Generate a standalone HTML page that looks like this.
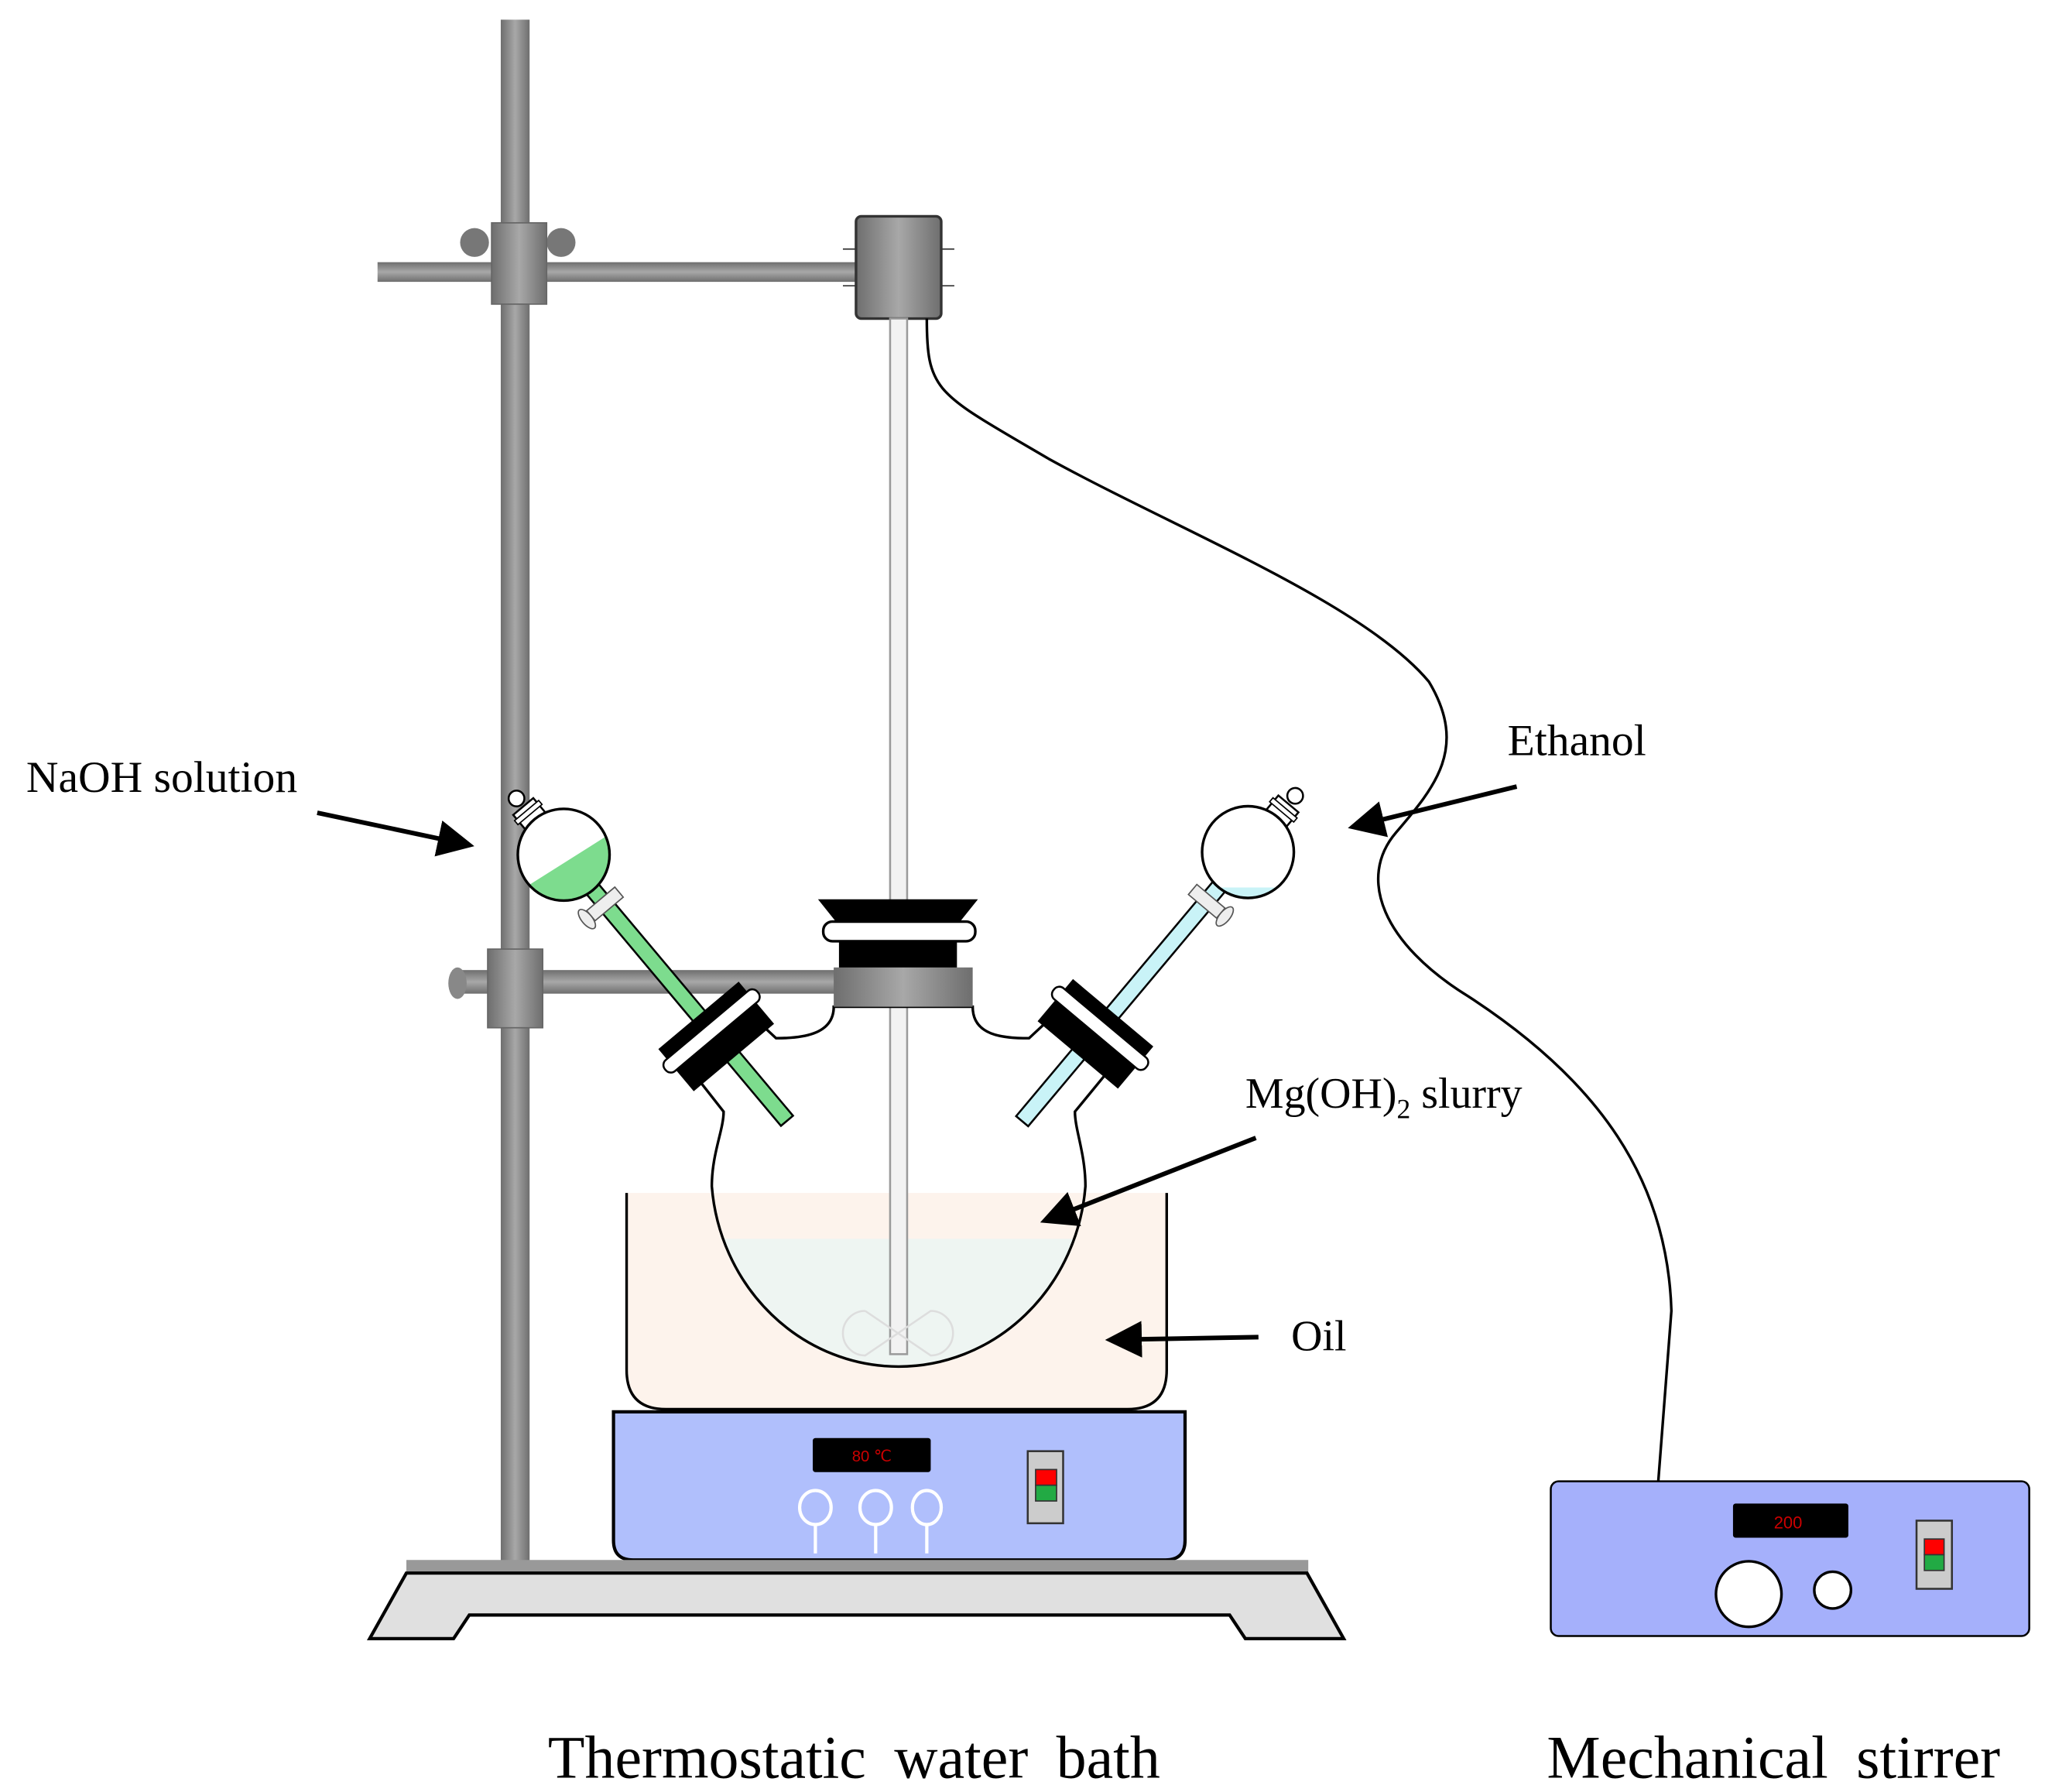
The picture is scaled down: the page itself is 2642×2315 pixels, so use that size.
<!DOCTYPE html>
<html><head><meta charset="utf-8"><style>html,body{margin:0;padding:0;background:#fff}svg{display:block}</style></head>
<body>
<svg width="2642" height="2315" viewBox="0 0 1560 1367" preserveAspectRatio="none" xmlns="http://www.w3.org/2000/svg" font-family="Liberation Serif, serif">
<defs>
<linearGradient id="rodV" x1="0" x2="1" y1="0" y2="0"><stop offset="0" stop-color="#6e6e6e"/><stop offset="0.5" stop-color="#a8a8a8"/><stop offset="1" stop-color="#6e6e6e"/></linearGradient>
<linearGradient id="rodH" x1="0" x2="0" y1="0" y2="1"><stop offset="0" stop-color="#6e6e6e"/><stop offset="0.5" stop-color="#a8a8a8"/><stop offset="1" stop-color="#6e6e6e"/></linearGradient>
<clipPath id="bulb"><path d="M543,905 A143 150 0 0 0 828,905 L828,860 L543,860 Z"/></clipPath>
<clipPath id="lb"><circle cx="430" cy="652" r="35"/></clipPath>
<clipPath id="rb"><circle cx="952" cy="650" r="35"/></clipPath>
<marker id="ah" markerWidth="8" markerHeight="8" refX="6" refY="4" orient="auto" markerUnits="strokeWidth"><path d="M0,0 L8,4 L0,8 Z" fill="#000"/></marker>
</defs>

<rect x="382" y="15" width="22" height="1180" fill="url(#rodV)"/>
<rect x="288" y="200" width="367" height="15" fill="url(#rodH)"/>
<circle cx="362" cy="185" r="11" fill="#777"/><circle cx="428" cy="185" r="11" fill="#777"/>
<rect x="375" y="170" width="42" height="62" fill="url(#rodV)" stroke="#666"/>
<rect x="345" y="740" width="295" height="18" fill="url(#rodH)"/>
<ellipse cx="349" cy="750" rx="7" ry="12" fill="#888"/>
<rect x="372" y="724" width="42" height="60" fill="url(#rodV)" stroke="#666"/>

<rect x="653" y="165" width="65" height="78" rx="4" fill="url(#rodV)" stroke="#333" stroke-width="2"/>
<line x1="718" y1="190" x2="728" y2="190" stroke="#333"/><line x1="718" y1="218" x2="728" y2="218" stroke="#333"/>
<line x1="643" y1="190" x2="653" y2="190" stroke="#333"/><line x1="643" y1="218" x2="653" y2="218" stroke="#333"/>

<path d="M707,243 C707,300 715,300 800,350 C900,405 1040,460 1090,520 C1120,570 1095,600 1065,635 C1035,670 1055,720 1120,760 C1220,825 1272,900 1275,1000 L1265,1130" fill="none" stroke="#000" stroke-width="2"/>

<path d="M478,910 L478,1045 Q478,1075 508,1075 L860,1075 Q890,1075 890,1045 L890,910 Z" fill="#fdf3ec"/>
<path d="M478,910 L478,1045 Q478,1075 508,1075 L860,1075 Q890,1075 890,1045 L890,910" fill="none" stroke="#000" stroke-width="2"/>

<rect x="540" y="945" width="300" height="120" fill="#eef5f2" clip-path="url(#bulb)"/>

<rect x="679" y="243" width="13" height="790" fill="#f2f2f2" stroke="#9a9a9a" stroke-width="1.5"/>
<g stroke="#ddd" fill="none" stroke-width="1.5"><path d="M660,1000 A17 17 0 1 0 660,1034 L710,1000 A17 17 0 1 1 710,1034 L660,1000"/></g>

<path d="M530,820 L552,848 C552,862 543,880 543,905 A143 150 0 0 0 828,905 C828,880 820,862 820,848 L843,820 L800,778 L785,792 C765,792 742,790 742,768 L636,768 C636,790 610,792 592,792 L577,778" fill="none" stroke="#000" stroke-width="2"/>

<path d="M624,686 L746,686 L730,706 L640,706 Z" fill="#000"/>
<rect x="628" y="703" width="116" height="15" rx="7" fill="#fff" stroke="#000" stroke-width="2"/>
<path d="M640,718 L730,718 L730,740 L640,740 Z" fill="#000"/>
<rect x="636" y="738" width="106" height="30" fill="url(#rodV)"/>

<g transform="translate(430,652) rotate(-40)">
  <rect x="-6" y="30" width="12" height="235" fill="#7ddc8e" stroke="#000" stroke-width="1.5"/>
  <rect x="-14" y="44" width="28" height="10" fill="#eee" stroke="#555"/>
  <ellipse cx="-18" cy="49" rx="4" ry="9" fill="#eee" stroke="#555"/>
  <rect x="-10" y="-48" width="20" height="14" fill="#fff" stroke="#000" stroke-width="1.5"/>
  <rect x="-12" y="-44" width="24" height="4" fill="#fff" stroke="#000"/>
  <circle cx="0" cy="-56" r="6" fill="#fff" stroke="#000" stroke-width="1.5"/>
  <rect x="-40" y="160" width="80" height="42" fill="#000"/>
  <rect x="-46" y="170" width="92" height="11" rx="5" fill="#fff" stroke="#000" stroke-width="1.5"/>
</g>
<circle cx="430" cy="652" r="35" fill="#fff"/>
<path d="M380,690 L475,630 L480,700 L380,700 Z" fill="#7ddc8e" clip-path="url(#lb)"/>
<circle cx="430" cy="652" r="35" fill="none" stroke="#000" stroke-width="2"/>

<g transform="translate(952,650) rotate(40)">
  <rect x="-6" y="30" width="12" height="238" fill="#c9f3f7" stroke="#000" stroke-width="1.5"/>
  <rect x="-14" y="44" width="28" height="10" fill="#eee" stroke="#555"/>
  <ellipse cx="18" cy="49" rx="4" ry="9" fill="#eee" stroke="#555"/>
  <rect x="-10" y="-48" width="20" height="14" fill="#fff" stroke="#000" stroke-width="1.5"/>
  <rect x="-12" y="-44" width="24" height="4" fill="#fff" stroke="#000"/>
  <circle cx="0" cy="-56" r="6" fill="#fff" stroke="#000" stroke-width="1.5"/>
  <rect x="-40" y="160" width="80" height="42" fill="#000"/>
  <rect x="-46" y="170" width="92" height="11" rx="5" fill="#fff" stroke="#000" stroke-width="1.5"/>
</g>
<circle cx="952" cy="650" r="35" fill="#fff"/>
<rect x="900" y="677" width="110" height="40" fill="#c9f3f7" clip-path="url(#rb)"/>
<circle cx="952" cy="650" r="35" fill="none" stroke="#000" stroke-width="2"/>

<path d="M468,1077 L904,1077 L904,1175 Q904,1190 889,1190 L483,1190 Q468,1190 468,1175 Z" fill="#b0bffc" stroke="#000" stroke-width="2.5"/>
<rect x="620" y="1097" width="90" height="26" rx="2" fill="#000"/>
<text x="665" y="1115" font-size="12" fill="#c00" text-anchor="middle" font-family="Liberation Sans, sans-serif">80 ℃</text>
<g fill="none" stroke="#fff" stroke-width="2.5">
<ellipse cx="622" cy="1150" rx="12" ry="13"/><line x1="622" y1="1163" x2="622" y2="1185"/>
<ellipse cx="668" cy="1150" rx="12" ry="13"/><line x1="668" y1="1163" x2="668" y2="1185"/>
<ellipse cx="707" cy="1150" rx="11" ry="13"/><line x1="707" y1="1163" x2="707" y2="1185"/>
</g>
<rect x="784" y="1107" width="27" height="55" fill="#ccc" stroke="#333" stroke-width="1.5"/>
<rect x="790" y="1121" width="16" height="12" fill="#f00" stroke="#333"/>
<rect x="790" y="1133" width="16" height="12" fill="#2a4" stroke="#333"/>

<rect x="310" y="1190" width="688" height="10" fill="#999"/>
<path d="M310,1200 L997,1200 L1025,1250 L950,1250 L938,1232 L358,1232 L346,1250 L282,1250 Z" fill="#e0e0e0" stroke="#000" stroke-width="2.5"/>

<rect x="1183" y="1130" width="365" height="118" rx="6" fill="#a5b0fb" stroke="#000" stroke-width="1.5"/>
<rect x="1322" y="1147" width="88" height="26" rx="2" fill="#000"/>
<text x="1364" y="1166" font-size="13" fill="#c00" text-anchor="middle" font-family="Liberation Sans, sans-serif">200</text>
<circle cx="1334" cy="1216" r="25" fill="#fff" stroke="#000" stroke-width="2"/>
<circle cx="1398" cy="1213" r="14" fill="#fff" stroke="#000" stroke-width="2"/>
<rect x="1462" y="1160" width="27" height="52" fill="#ccc" stroke="#333" stroke-width="1.5"/>
<rect x="1468" y="1174" width="15" height="12" fill="#f00" stroke="#333"/>
<rect x="1468" y="1186" width="15" height="12" fill="#2a4" stroke="#333"/>

<g stroke="#000" stroke-width="3.5" fill="none">
<line x1="242" y1="620" x2="355" y2="644" marker-end="url(#ah)"/>
<line x1="1157" y1="600" x2="1035" y2="630" marker-end="url(#ah)"/>
<line x1="958" y1="868" x2="800" y2="930" marker-end="url(#ah)"/>
<line x1="960" y1="1020" x2="850" y2="1022" marker-end="url(#ah)"/>
</g>

<text x="20" y="604" font-size="34">NaOH solution</text>
<text x="1150" y="576" font-size="34">Ethanol</text>
<text x="950" y="845" font-size="33">Mg(OH)<tspan font-size="21" dy="8">2</tspan><tspan dy="-8"> slurry</tspan></text>
<text x="985" y="1030" font-size="33">Oil</text>
<text x="418" y="1356" font-size="46" word-spacing="10">Thermostatic water bath</text>
<text x="1180" y="1356" font-size="46" word-spacing="10">Mechanical stirrer</text>
</svg>
</body></html>
